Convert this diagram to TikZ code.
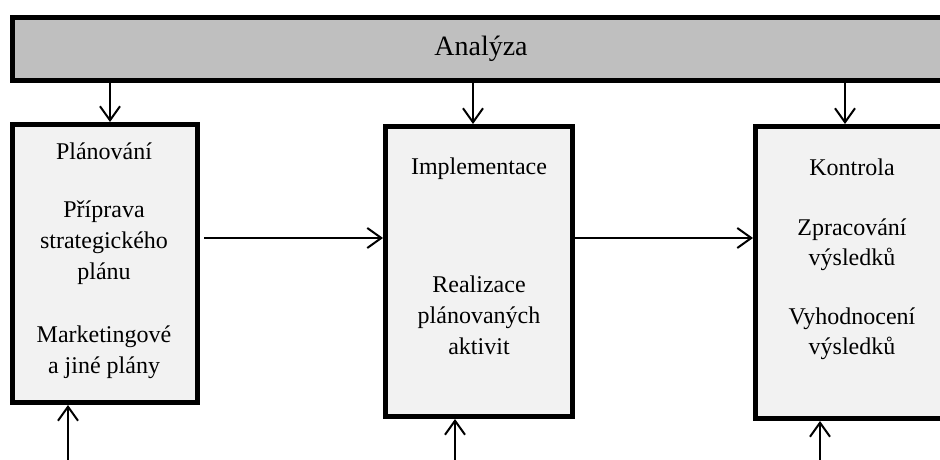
\documentclass[tikz,border=0pt]{standalone}
\usepackage{fontspec}
\setmainfont{Liberation Serif}
\usetikzlibrary{arrows.meta}
\tikzset{
  frame/.style={draw=black, line width=5pt, inner sep=0pt},
  stagebox/.style={frame, fill=boxgray},
  barbox/.style={frame, fill=bargray},
  txt/.style={inner sep=0pt, anchor=base, font=\fontsize{24}{31}\selectfont},
  arr/.style={draw=black, line width=2pt,
    -{Straight Barb[length=14pt,width=20pt,line width=2pt]}}
}
\definecolor{bargray}{HTML}{BFBFBF}
\definecolor{boxgray}{HTML}{F2F2F2}
\begin{document}
\begin{tikzpicture}[x=1pt,y=-1pt]
\useasboundingbox (0,0) rectangle (940,460);
\clip (0,0) rectangle (940,460);

% analysis bar running across the top
\node[barbox, minimum width=960pt, minimum height=63pt] (bar) at (492.5,49) {};
\node[inner sep=0pt, anchor=base, font=\fontsize{28}{34}\selectfont] (bartxt) at (481,56) {Analýza};

% the three stages
\node[stagebox, minimum width=185pt, minimum height=278pt] (plan) at (105,263.5) {};
\node[stagebox, minimum width=187pt, minimum height=290pt] (impl) at (479,271.5) {};
\node[stagebox, minimum width=193pt, minimum height=292pt] (ctrl) at (852,272.5) {};

% stage texts
\node[txt] (p1) at (104,159) {Plánování};
\node[txt] (p2) at (104,217) {Příprava};
\node[txt] (p3) at (104,248) {strategického};
\node[txt] (p4) at (104,279) {plánu};
\node[txt] (p5) at (104,342) {Marketingové};
\node[txt] (p6) at (104,373) {a jiné plány};

\node[txt] (i1) at (479,174) {Implementace};
\node[txt] (i2) at (479,292) {Realizace};
\node[txt] (i3) at (479,323) {plánovaných};
\node[txt] (i4) at (479,354) {aktivit};

\node[txt] (k1) at (852,175) {Kontrola};
\node[txt] (k2) at (852,235) {Zpracování};
\node[txt] (k3) at (852,265) {výsledků};
\node[txt] (k4) at (852,324) {Vyhodnocení};
\node[txt] (k5) at (852,354) {výsledků};

% x positions of the vertical connectors
\coordinate (t1) at (110,0);
\coordinate (t2) at (473,0);
\coordinate (t3) at (845,0);
\coordinate (b1) at (68,460);
\coordinate (b2) at (455,460);
\coordinate (b3) at (820,460);
\coordinate (hy) at (0,238);

% from the analysis bar down into each stage
\draw[arr] (bar.south -| t1) -- (plan.north -| t1);
\draw[arr] (bar.south -| t2) -- (impl.north -| t2);
\draw[arr] (bar.south -| t3) -- (ctrl.north -| t3);

% stage to stage
\draw[arr, shorten <=4pt] (plan.east |- hy) -- (impl.west |- hy);
\draw[arr] (impl.east |- hy) -- (ctrl.west |- hy);

% inputs from below
\draw[arr] (b1) -- (plan.south -| b1);
\draw[arr] (b2) -- (impl.south -| b2);
\draw[arr] (b3) -- (ctrl.south -| b3);
\end{tikzpicture}
\end{document}
